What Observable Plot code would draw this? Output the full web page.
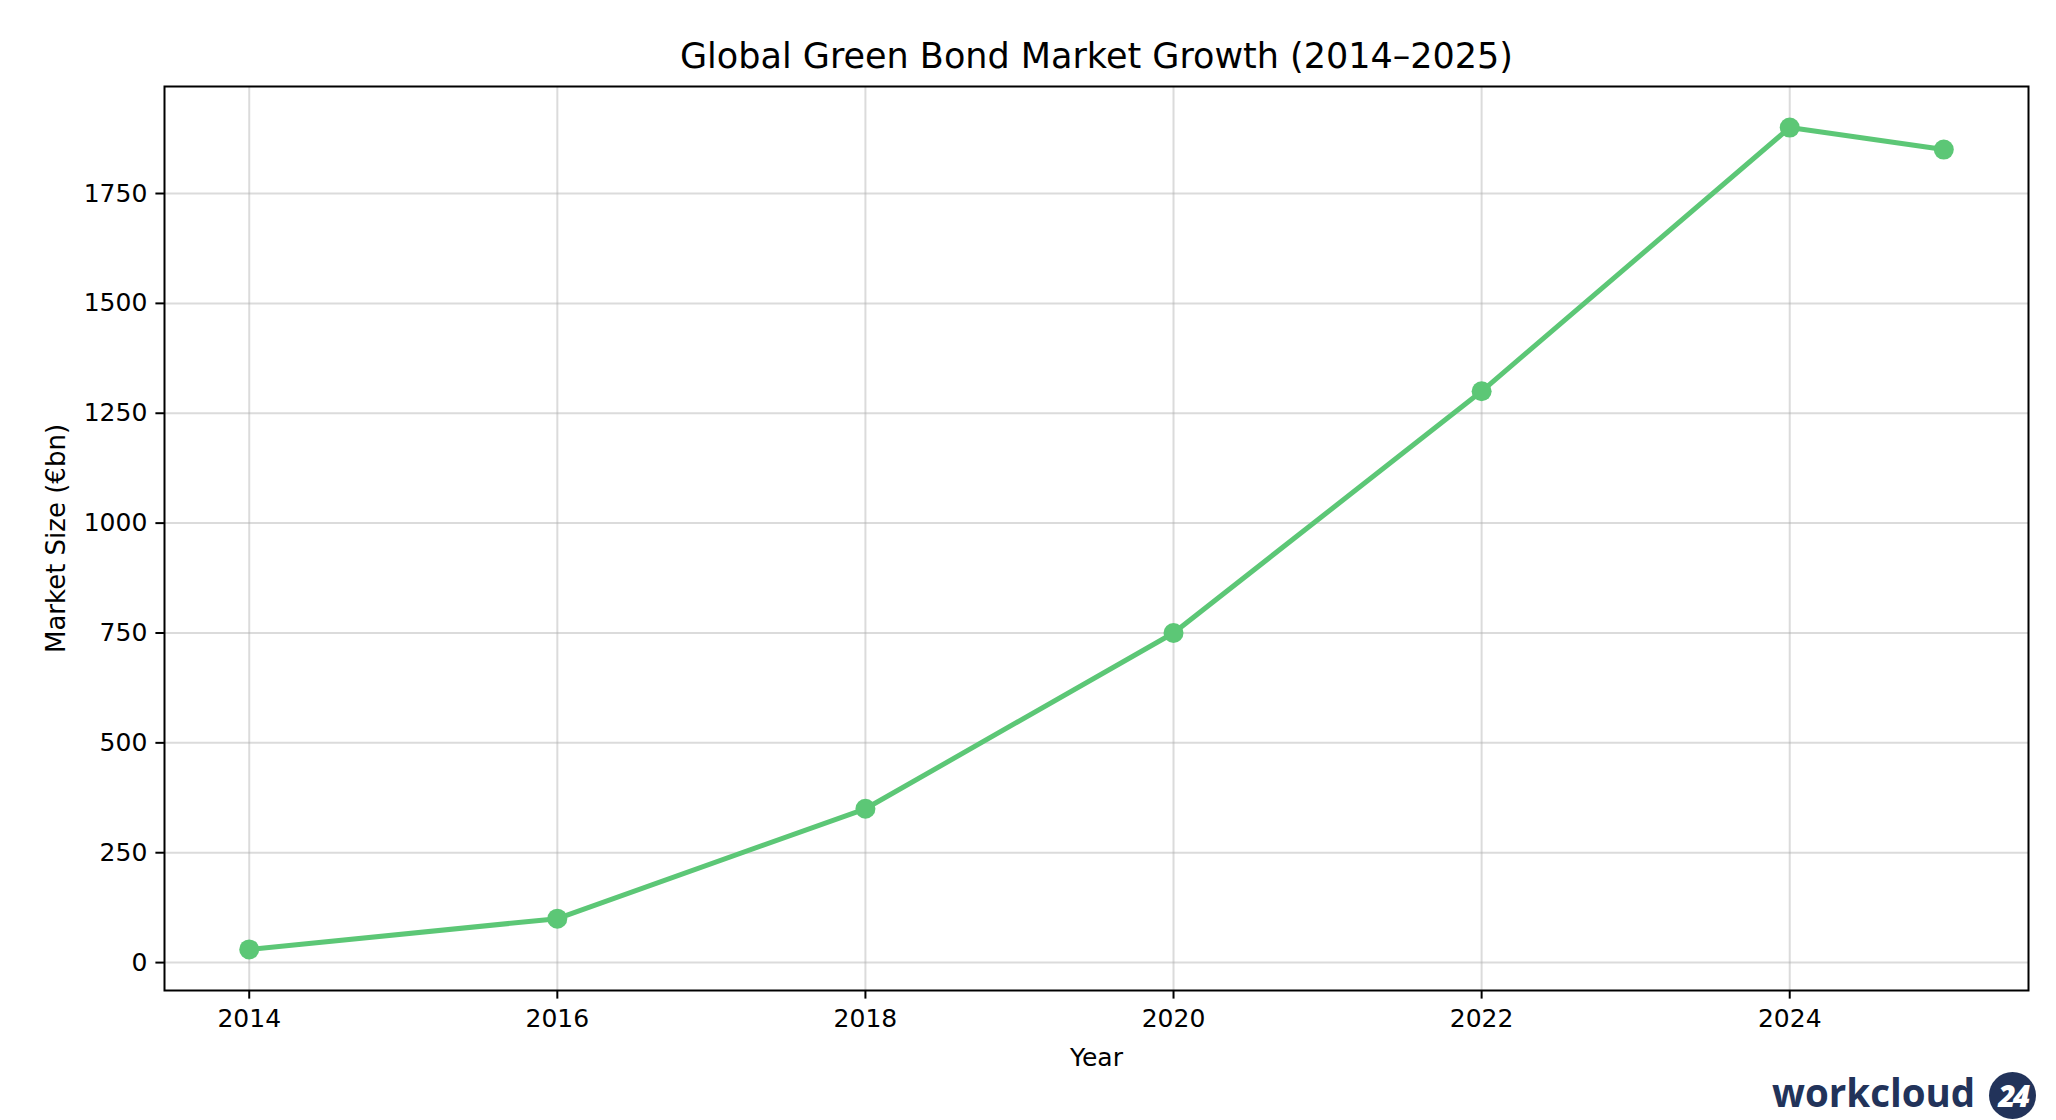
<!DOCTYPE html>
<html>
<head>
<meta charset="utf-8">
<script src="https://cdn.jsdelivr.net/npm/d3@7"></script>
<script src="https://cdn.jsdelivr.net/npm/@observablehq/plot@0.6"></script>
<style>
  html, body { margin: 0; padding: 0; background: #fff; }
  #wrap { position: relative; width: 2056px; height: 1120px; overflow: hidden; }
  #logo { position: absolute; left: 1772px; top: 1071px; height: 48px; display: flex; align-items: center; gap: 14px;
          font-family: "Open Sans", Roboto, sans-serif; font-weight: 700; font-size: 38.5px; color: #22335a; }
  #logo .word { line-height: 48px; margin-top: -6px; }
  #logo .badge { width: 47px; height: 47px; border-radius: 50%; background: #22335a; color: #fff; display: flex;
          align-items: center; justify-content: center; font-size: 30px; font-style: italic; font-weight: 800; letter-spacing: -3px; }
</style>
</head>
<body>
<div id="wrap"></div>
<script>
const years = [2014, 2016, 2018, 2020, 2022, 2024, 2025];
const marketSize = [30, 100, 350, 750, 1300, 1900, 1850];
const xTicks = [2014, 2016, 2018, 2020, 2022, 2024];
const yTicks = [0, 250, 500, 750, 1000, 1250, 1500, 1750];
const titleText = "Global Green Bond Market Growth (2014–2025)";
const xLabel = "Year";
const yLabel = "Market Size (€bn)";
const lineColor = "#5cc776";

const data = years.map((y, i) => ({year: y, value: marketSize[i]}));

const chart = Plot.plot({
  width: 2056,
  height: 1120,
  marginLeft: 164,
  marginRight: 28,
  marginTop: 86,
  marginBottom: 130,
  style: {fontFamily: "'DejaVu Sans', sans-serif", fontSize: "25px", color: "#000", background: "#fff"},
  x: {domain: [2013.45, 2025.55]},
  y: {domain: [-63.5, 1993.5]},
  marks: [
    Plot.gridX(xTicks, {stroke: "#b0b0b0", strokeOpacity: 0.45, strokeWidth: 2}),
    Plot.gridY(yTicks, {stroke: "#b0b0b0", strokeOpacity: 0.45, strokeWidth: 2}),
    Plot.axisX(xTicks, {tickSize: 8.6, tickPadding: 10, tickFormat: d => String(d), label: null, fontSize: 25, strokeWidth: 2, stroke: "#000", fill: "#000"}),
    Plot.axisY(yTicks, {tickSize: 8.6, tickPadding: 8.6, tickFormat: d => String(d), label: null, fontSize: 25, strokeWidth: 2, stroke: "#000", fill: "#000"}),
    Plot.frame({stroke: "#000", strokeWidth: 2}),
    Plot.line(data, {x: "year", y: "value", stroke: lineColor, strokeWidth: 5}),
    Plot.dot(data, {x: "year", y: "value", r: 10, fill: lineColor, stroke: null}),
    Plot.text([titleText], {text: d => d, frameAnchor: "top", dy: -30, lineAnchor: "middle", fontSize: 35, fill: "#000"}),
    Plot.text([xLabel], {text: d => d, frameAnchor: "bottom", dy: 67, lineAnchor: "middle", fontSize: 25, fill: "#000"}),
    Plot.text([yLabel], {text: d => d, frameAnchor: "left", dx: -108, rotate: -90, textAnchor: "middle", lineAnchor: "middle", fontSize: 26, fill: "#000"})
  ]
});
const wrap = document.getElementById("wrap");
wrap.appendChild(chart);
const logo = document.createElement("div");
logo.id = "logo";
logo.innerHTML = '<span class="word">workcloud</span><span class="badge">24</span>';
wrap.appendChild(logo);
</script>
</body>
</html>
